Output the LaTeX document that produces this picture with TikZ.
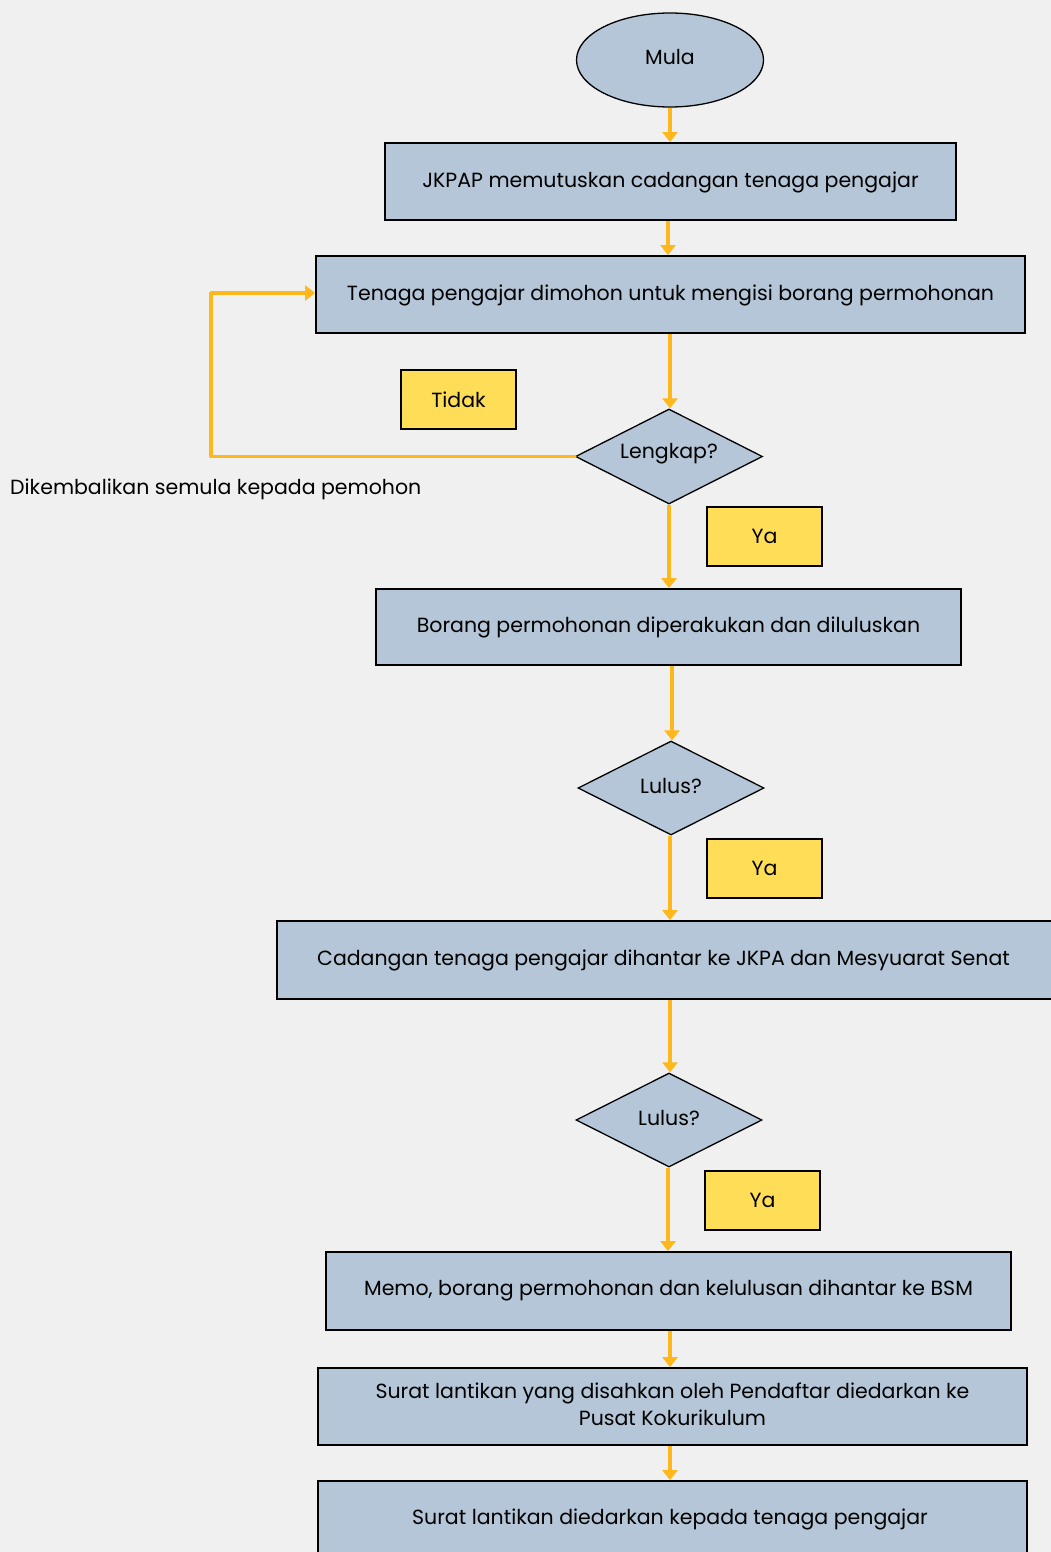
\documentclass[tikz,border=0pt]{standalone}
\usepackage{fontspec}
\setmainfont{Poppins}
\usetikzlibrary{shapes.geometric,arrows.meta}
\definecolor{bg}{HTML}{F0F0F0}
\definecolor{boxfill}{HTML}{B4C6D7}
\definecolor{flow}{HTML}{FFB81C}
\definecolor{tag}{HTML}{FFDD57}
\tikzset{
  txt/.style={font=\fontsize{20.5}{27}\selectfont},
  stepbox/.style={draw=black, line width=1.8pt, fill=boxfill, inner sep=0pt, txt},
  decision/.style={diamond, draw=black, line width=1.3pt, fill=boxfill, inner sep=0pt, txt},
  terminal/.style={ellipse, draw=black, line width=1.3pt, fill=boxfill, inner sep=0pt, txt},
  tagbox/.style={draw=black, line width=1.8pt, fill=tag, inner sep=0pt, minimum width=115pt, minimum height=59pt, txt},
  flowarrow/.style={draw=flow, line width=3.6pt, -{Triangle[length=10pt,width=15pt]}},
  label/.style={txt, inner sep=0pt},
}
\begin{document}
\begin{tikzpicture}[x=1pt,y=-1pt]
  % page area
  \fill[bg] (0,0) rectangle (1051,1552);
  \useasboundingbox (0,0) rectangle (1051,1552);

  % shapes
  \node[terminal, minimum width=187pt, minimum height=94pt] (start) at (670,60) {};
  \node[label] (startt) at (670,57) {Mula};
  \node[stepbox, minimum width=571pt, minimum height=77pt] (b1) at (670.5,181.5) {};
  \node[label] (b1t) at (670.5,182.5) {JKPAP memutuskan cadangan tenaga pengajar};
  \node[stepbox, minimum width=709pt, minimum height=77pt] (b2) at (670.5,294.5) {};
  \node[label] (b2t) at (670.5,295) {Tenaga pengajar dimohon untuk mengisi borang permohonan};
  \node[decision, minimum width=187pt, minimum height=95pt, aspect=2] (d1) at (669,456.5) {};
  \node[label] (d1t) at (669,454) {Lengkap?};
  \node[tagbox] (no1) at (458.5,399.5) {Tidak};
  \node[tagbox] (yes1) at (764.5,536.5) {Ya};
  \node[stepbox, minimum width=585pt, minimum height=76pt] (b3) at (668.5,627) {};
  \node[label] (b3t) at (668.5,627.5) {Borang permohonan diperakukan dan diluluskan};
  \node[decision, minimum width=186pt, minimum height=94pt, aspect=2] (d2) at (671,788) {};
  \node[label] (d2t) at (671,785.5) {Lulus?};
  \node[tagbox] (yes2) at (764.5,868.5) {Ya};
  \node[stepbox, minimum width=790pt, minimum height=78pt] (b4) at (672,960) {};
  \node[label, anchor=west] (b4t) at (317,960.5) {Cadangan tenaga pengajar dihantar ke JKPA dan Mesyuarat Senat};
  \node[decision, minimum width=186pt, minimum height=94pt, aspect=2] (d3) at (669,1120) {};
  \node[label] (d3t) at (669,1117.5) {Lulus?};
  \node[tagbox] (yes3) at (762.5,1200.5) {Ya};
  \node[stepbox, minimum width=685pt, minimum height=78pt] (b5) at (668.5,1291) {};
  \node[label] (b5t) at (668.5,1290.5) {Memo, borang permohonan dan kelulusan dihantar ke BSM};
  \node[stepbox, minimum width=709pt, minimum height=77pt] (b6) at (672.5,1406.5) {};
  \node[label, align=center] (b6t) at (672.5,1404.5) {Surat lantikan yang disahkan oleh Pendaftar diedarkan ke\\Pusat Kokurikulum};
  \node[stepbox, minimum width=709pt, minimum height=100pt] (b7) at (672.5,1531) {};
  \node[label] (b7t) at (670,1519) {Surat lantikan diedarkan kepada tenaga pengajar};
  \node[label, anchor=west] (ret) at (10,489.5) {Dikembalikan semula kepada pemohon};

  % connectors
  \coordinate (loopA) at (211,456.5);
  \coordinate (loopB) at (211,293);
  \draw[flowarrow] (start.south) -- (b1.north -| start.south);
  \draw[flowarrow] (b1.south -| 668,0) -- (b2.north -| 668,0);
  \draw[flowarrow] (b2.south -| 670,0) -- (d1.north -| 670,0);
  \draw[flowarrow, line cap=round, line join=round] (d1.west) -- (loopA) -- (loopB) -- (b2.west |- loopB);
  \draw[flowarrow] (d1.south) -- (b3.north -| d1.south);
  \draw[flowarrow] (b3.south -| 672,0) -- (d2.north -| 672,0);
  \draw[flowarrow] (d2.south -| 670,0) -- (b4.north -| 670,0);
  \draw[flowarrow] (b4.south -| 670,0) -- (d3.north -| 670,0);
  \draw[flowarrow] (d3.south -| 668,0) -- (b5.north -| 668,0);
  \draw[flowarrow] (b5.south -| 670,0) -- (b6.north -| 670,0);
  \draw[flowarrow] (b6.south -| 670,0) -- (b7.north -| 670,0);
\end{tikzpicture}
\end{document}
